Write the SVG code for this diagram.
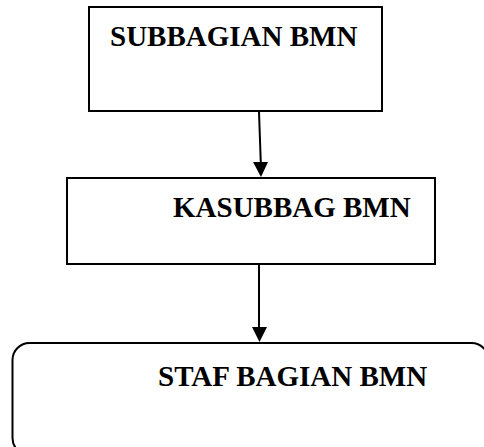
<svg xmlns="http://www.w3.org/2000/svg" width="484" height="447" viewBox="0 0 484 447">
  <style>
    .box { fill: #ffffff; stroke: #000000; stroke-width: 2; }
    .label { font-family: "Liberation Serif", "Times New Roman", serif; font-weight: bold; font-size: 29px; fill: #000000; }
    .link { stroke: #000000; stroke-width: 2; fill: none; }
    .head { fill: #000000; stroke: none; }
  </style>
  <rect width="484" height="447" fill="#ffffff"/>

  <g id="subbagian-bmn">
    <rect class="box" x="89" y="7" width="293" height="104"/>
    <text class="label" x="110" y="46">SUBBAGIAN BMN</text>
  </g>

  <g id="kasubbag-bmn">
    <rect class="box" x="67" y="178" width="368" height="86"/>
    <text class="label" x="173" y="217">KASUBBAG BMN</text>
  </g>

  <g id="staf-bagian-bmn">
    <rect class="box" x="12.5" y="343" width="476" height="112" rx="17" ry="17"/>
    <text class="label" x="158" y="386">STAF BAGIAN BMN</text>
  </g>

  <g id="connectors">
    <line class="link" x1="259" y1="112" x2="260.8" y2="163"/>
    <polygon class="head" points="253,162 268,162 261,177"/>
    <line class="link" x1="259" y1="265" x2="259" y2="328"/>
    <polygon class="head" points="252,327 267,327 259.5,342"/>
  </g>
</svg>
